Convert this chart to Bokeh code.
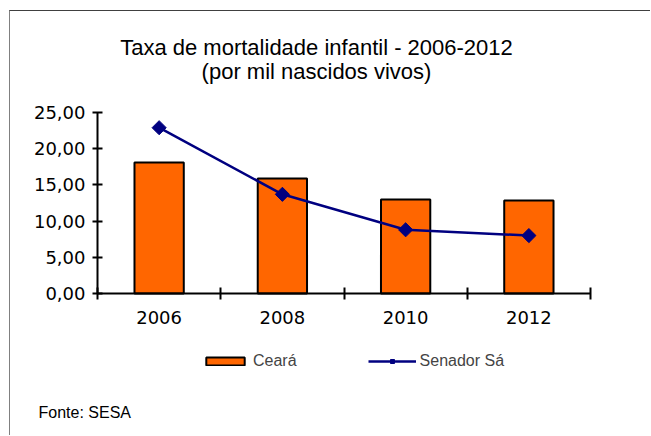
import math
from bokeh.plotting import figure
from bokeh.models import FixedTicker, Legend, LegendItem, Label, Range1d
from bokeh.embed import file_html
from bokeh.resources import INLINE

years = ["2006", "2008", "2010", "2012"]
ceara = [18.1, 15.9, 13.0, 12.85]
senador_sa = [22.9, 13.7, 8.8, 8.0]
y_ticks = [0, 5, 10, 15, 20, 25]
y_tick_labels = ["0,00", "5,00", "10,00", "15,00", "20,00", "25,00"]
title_lines = ["Taxa de mortalidade infantil - 2006-2012", "(por mil nascidos vivos)"]
source_note = "Fonte: SESA"

FONT = "DejaVu Sans"
FONT2 = "Liberation Sans"

x_centers = [i + 0.5 for i in range(len(years))]
x_bounds = list(range(len(years) + 1))

p = figure(width=641, height=425, output_backend="svg", toolbar_location=None,
           x_range=Range1d(-0.706, 4.495), y_range=Range1d(-19.75, 38.95),
           min_border_left=0, min_border_right=0, min_border_top=0, min_border_bottom=0)
p.title.visible = False
p.outline_line_color = None
p.grid.visible = False
p.background_fill_color = "white"
p.border_fill_color = "white"
p.styles = {"margin-left": "9px", "margin-top": "10px",
            "border-left": "1px solid #808080", "border-top": "1px solid #404040"}

bars = p.vbar(x=x_centers, top=ceara, width=0.4, fill_color="#FF6600",
              line_color="black", line_width=2)
ln = p.line(x=x_centers, y=senador_sa, line_color="#000080", line_width=2.5)
mk = p.scatter(x=x_centers, y=senador_sa, marker="square", angle=math.pi / 4, size=10,
               fill_color="#000080", line_color="#000080")

# axes
xa = p.xaxis[0]
xa.fixed_location = 0
xa.bounds = (0, len(years))
xa.ticker = FixedTicker(ticks=x_centers, minor_ticks=x_bounds)
xa.major_label_overrides = {c: y for c, y in zip(x_centers, years)}
xa.major_tick_line_color = None
xa.minor_tick_line_color = "black"
xa.minor_tick_line_width = 2
xa.minor_tick_in = 6
xa.minor_tick_out = 6
xa.axis_line_width = 2
xa.axis_line_color = "black"
xa.major_label_text_font = FONT
xa.major_label_text_font_size = "18px"
xa.major_label_text_color = "black"
xa.major_label_standoff = 11

ya = p.yaxis[0]
ya.fixed_location = 0
ya.bounds = (0, 25)
ya.ticker = FixedTicker(ticks=y_ticks, minor_ticks=[])
ya.major_label_overrides = {t: l for t, l in zip(y_ticks, y_tick_labels)}
ya.major_tick_line_width = 2
ya.major_tick_line_color = "black"
ya.major_tick_in = 5
ya.major_tick_out = 5
ya.axis_line_width = 2
ya.axis_line_color = "black"
ya.major_label_text_font = FONT
ya.major_label_text_font_size = "18px"
ya.major_label_text_color = "black"
ya.major_label_standoff = 7

# title
for i, t in enumerate(title_lines):
    p.add_layout(Label(x=306, y=389 - 24 * i, x_units="screen", y_units="screen",
                       text=t, text_font=FONT2, text_font_size="22px",
                       text_align="center", text_baseline="middle", text_color="black"))

p.add_layout(Label(x=28, y=24, x_units="screen", y_units="screen",
                   text=source_note, text_font=FONT2, text_font_size="16px",
                   text_align="left", text_baseline="middle", text_color="black"))

legend = Legend(items=[LegendItem(label="Ceará", renderers=[bars]),
                       LegendItem(label="Senador Sá", renderers=[ln, mk])],
                location=(191, 66), orientation="horizontal",
                glyph_width=48, glyph_height=10, spacing=71, padding=0, margin=0,
                label_text_font=FONT2, label_text_font_size="16px", label_standoff=4,
                border_line_color=None, background_fill_alpha=0)
p.add_layout(legend, "center")

open("out.html", "w").write(file_html(p, INLINE))
